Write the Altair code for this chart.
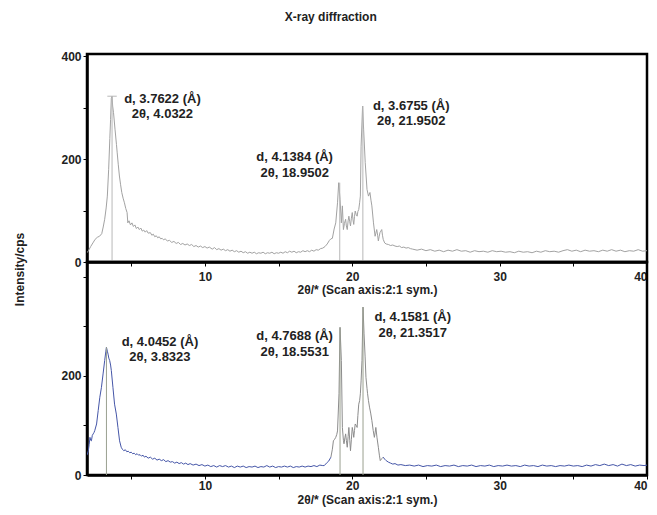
import altair as alt
import pandas as pd

# ---------------- data ----------------
top_scan = [
    (2.0, 18), (2.1, 22), (2.25, 30), (2.4, 37), (2.55, 44), (2.7, 48), (2.85, 50), (3.0, 55),
    (3.1, 68), (3.2, 83), (3.3, 105), (3.38, 128), (3.47, 180), (3.55, 240), (3.6, 277),
    (3.65, 318), (3.7, 322), (3.74, 303), (3.8, 290), (3.9, 258), (4.0, 228), (4.05, 212),
    (4.12, 190), (4.2, 167), (4.28, 150), (4.36, 135), (4.45, 124), (4.54, 115), (4.63, 104),
    (4.72, 96), (4.77, 76), (4.85, 80), (4.95, 72), (5.05, 76), (5.15, 69), (5.25, 72),
    (5.35, 65), (5.45, 68), (5.55, 63), (5.65, 66), (5.75, 60), (5.85, 62), (5.95, 58),
    (6.05, 61), (6.15, 56), (6.3, 57), (6.4, 52), (6.5, 54), (6.6, 49), (6.7, 51), (6.8, 47),
    (6.9, 49), (7.0, 45), (7.1, 46), (7.2, 43), (7.3, 45), (7.45, 41), (7.6, 42), (7.75, 38),
    (7.9, 40), (8.05, 36), (8.2, 38), (8.35, 34), (8.5, 36), (8.65, 33), (8.8, 35), (8.95, 32),
    (9.1, 34), (9.25, 30), (9.4, 32), (9.55, 29), (9.7, 31), (9.85, 28), (10.0, 30),
    (10.15, 27), (10.3, 29), (10.5, 25), (10.65, 28), (10.8, 24), (10.95, 26), (11.1, 23),
    (11.25, 25), (11.4, 22), (11.55, 24), (11.7, 21), (11.85, 23), (12.0, 20), (12.15, 22),
    (12.3, 19), (12.45, 21), (12.6, 18), (12.75, 20), (12.9, 17), (13.05, 19), (13.2, 17),
    (13.35, 19), (13.5, 16), (13.65, 18), (13.8, 17), (13.95, 19), (14.1, 16), (14.25, 18),
    (14.4, 17), (14.55, 19), (14.7, 16), (14.85, 18), (15.0, 17), (15.15, 19), (15.3, 17),
    (15.45, 20), (15.6, 18), (15.75, 21), (15.9, 19), (16.05, 21), (16.2, 18), (16.35, 20),
    (16.5, 19), (16.65, 22), (16.8, 20), (16.95, 22), (17.1, 20), (17.25, 23), (17.4, 21),
    (17.55, 24), (17.7, 23), (17.85, 26), (18.0, 27), (18.15, 30), (18.3, 35), (18.45, 42),
    (18.55, 45), (18.65, 46), (18.77, 64), (18.88, 76), (19.0, 115), (19.08, 154),
    (19.17, 122), (19.26, 76), (19.33, 109), (19.4, 63), (19.47, 75), (19.55, 83), (19.6, 70),
    (19.66, 63), (19.72, 80), (19.77, 89), (19.83, 78), (19.88, 70), (19.94, 85), (20.0, 96),
    (20.05, 82), (20.1, 73), (20.15, 88), (20.2, 99), (20.27, 92), (20.33, 89), (20.38, 98),
    (20.44, 102), (20.5, 115), (20.55, 128), (20.6, 225), (20.7, 303), (20.77, 258),
    (20.88, 193), (21.0, 141), (21.1, 128), (21.2, 135), (21.27, 120), (21.33, 109),
    (21.44, 76), (21.55, 50), (21.6, 56), (21.66, 63), (21.72, 52), (21.77, 41), (21.83, 50),
    (21.88, 57), (21.94, 60), (22.0, 63), (22.05, 52), (22.1, 44), (22.2, 37), (22.3, 35),
    (22.45, 34), (22.6, 32), (22.75, 33), (22.9, 31), (23.05, 30), (23.2, 31), (23.35, 28),
    (23.5, 29), (23.65, 27), (23.8, 28), (23.95, 26), (24.1, 25), (24.4, 23), (24.7, 25),
    (25.0, 22), (25.3, 24), (25.6, 21), (25.9, 23), (26.2, 20), (26.5, 23), (26.8, 21),
    (27.1, 24), (27.4, 21), (27.7, 22), (28.0, 19), (28.3, 22), (28.6, 20), (28.9, 21),
    (29.2, 19), (29.5, 22), (29.8, 20), (30.1, 21), (30.4, 19), (30.7, 20), (31.0, 18),
    (31.3, 21), (31.6, 19), (31.9, 20), (32.2, 18), (32.5, 21), (32.8, 19), (33.1, 22),
    (33.4, 20), (33.7, 21), (34.0, 19), (34.3, 22), (34.6, 24), (34.9, 21), (35.2, 23),
    (35.5, 20), (35.8, 23), (36.1, 21), (36.4, 22), (36.7, 20), (37.0, 23), (37.3, 21),
    (37.6, 24), (37.9, 21), (38.2, 23), (38.5, 20), (38.8, 22), (39.1, 21), (39.4, 24),
    (39.7, 21), (40.0, 22),
]

bottom_scan = [
    (2.0, 40), (2.09, 49), (2.15, 62), (2.2, 76), (2.25, 70), (2.3, 69), (2.36, 80), (2.42, 83),
    (2.48, 86), (2.53, 90), (2.65, 103), (2.76, 130), (2.87, 157), (2.98, 177), (3.09, 204),
    (3.2, 231), (3.28, 250), (3.32, 258), (3.38, 250), (3.43, 244), (3.48, 236), (3.54, 231),
    (3.6, 222), (3.65, 211), (3.76, 177), (3.87, 143), (3.99, 123), (4.1, 96), (4.21, 69),
    (4.32, 56), (4.4, 52), (4.5, 49), (4.6, 51), (4.7, 47), (4.8, 48), (4.9, 45), (5.0, 46),
    (5.1, 43), (5.2, 44), (5.3, 41), (5.4, 43), (5.5, 40), (5.6, 41), (5.7, 38), (5.8, 40),
    (5.9, 36), (6.0, 38), (6.15, 34), (6.3, 36), (6.45, 32), (6.6, 34), (6.75, 30), (6.9, 32),
    (7.05, 29), (7.2, 31), (7.35, 27), (7.5, 29), (7.65, 26), (7.8, 27), (7.95, 24), (8.1, 26),
    (8.25, 23), (8.4, 25), (8.55, 22), (8.7, 24), (8.85, 21), (9.0, 23), (9.2, 20), (9.4, 22),
    (9.6, 19), (9.8, 21), (10.0, 18), (10.2, 20), (10.4, 17), (10.6, 19), (10.8, 16),
    (11.0, 19), (11.2, 17), (11.4, 19), (11.6, 16), (11.8, 18), (12.0, 15), (12.2, 18),
    (12.4, 16), (12.6, 18), (12.8, 15), (13.0, 17), (13.2, 16), (13.4, 18), (13.6, 15),
    (13.8, 17), (14.0, 16), (14.2, 19), (14.4, 16), (14.6, 18), (14.8, 15), (15.0, 17),
    (15.2, 16), (15.4, 18), (15.6, 16), (15.8, 18), (16.0, 15), (16.2, 17), (16.4, 16),
    (16.6, 18), (16.8, 16), (17.0, 18), (17.2, 17), (17.4, 19), (17.6, 17), (17.8, 20),
    (18.0, 19), (18.1, 19), (18.25, 24), (18.4, 28), (18.55, 36), (18.65, 52), (18.72, 69),
    (18.8, 72), (18.88, 76), (18.95, 82), (19.0, 89), (19.1, 164), (19.17, 298), (19.26, 231),
    (19.33, 96), (19.4, 70), (19.44, 63), (19.5, 75), (19.55, 83), (19.6, 70), (19.66, 56),
    (19.72, 78), (19.77, 96), (19.83, 70), (19.88, 49), (19.94, 72), (20.0, 96), (20.05, 88),
    (20.1, 76), (20.15, 90), (20.2, 103), (20.27, 100), (20.33, 96), (20.38, 120),
    (20.44, 143), (20.5, 150), (20.55, 164), (20.6, 190), (20.66, 231), (20.73, 339),
    (20.8, 285), (20.87, 240), (20.93, 197), (21.0, 175), (21.04, 164), (21.1, 150),
    (21.17, 137), (21.25, 125), (21.33, 110), (21.42, 90), (21.5, 76), (21.55, 85), (21.6, 96),
    (21.68, 75), (21.77, 56), (21.84, 40), (21.9, 29), (22.0, 33), (22.1, 36), (22.2, 32),
    (22.3, 29), (22.45, 26), (22.6, 24), (22.75, 22), (22.9, 23), (23.1, 20), (23.3, 21),
    (23.6, 19), (23.9, 20), (24.2, 18), (24.5, 20), (24.8, 17), (25.1, 19), (25.4, 18),
    (25.7, 20), (26.0, 17), (26.3, 19), (26.6, 18), (26.9, 20), (27.2, 17), (27.5, 19),
    (27.8, 18), (28.1, 20), (28.4, 17), (28.7, 19), (29.0, 18), (29.3, 20), (29.6, 17),
    (29.9, 19), (30.2, 18), (30.5, 20), (30.8, 18), (31.1, 19), (31.4, 17), (31.7, 20),
    (32.0, 18), (32.3, 19), (32.6, 17), (32.9, 20), (33.2, 18), (33.5, 19), (33.8, 17),
    (34.1, 19), (34.4, 18), (34.7, 20), (35.0, 18), (35.3, 19), (35.6, 17), (35.9, 20),
    (36.2, 18), (36.5, 21), (36.8, 19), (37.1, 22), (37.4, 19), (37.7, 21), (38.0, 18),
    (38.3, 22), (38.6, 19), (38.9, 21), (39.2, 18), (39.5, 20), (39.8, 19), (40.0, 20),
]

# peak markers (2θ position, height)
top_peak_x = [3.7, 19.15, 20.72]
top_peak_y = [322, 154, 303]
bottom_peak_x = [3.32, 19.17, 20.73]
bottom_peak_y = [258, 298, 339]

# annotations: (line1, line2, x, y line1, y line2)
top_notes = [
    ("d, 3.7622 (Å)", "2θ, 4.0322", 7.12, 317, 288),
    ("d, 4.1384 (Å)", "2θ, 18.9502", 16.09, 204, 173),
    ("d, 3.6755 (Å)", "2θ, 21.9502", 24.0, 303, 274),
]
bottom_notes = [
    ("d, 4.0452 (Å)", "2θ, 3.8323", 6.95, 269, 238),
    ("d, 4.7688 (Å)", "2θ, 18.5531", 16.09, 281, 248),
    ("d, 4.1581 (Å)", "2θ, 21.3517", 24.1, 319, 286),
]

x_ticks = [5, 10, 15, 20, 25, 30, 35, 40]
y_ticks = [0, 50, 100, 150, 200, 250, 300, 350, 400]

FONT = "Liberation Sans"
X_TITLE = "2θ/* (Scan axis:2:1 sym.)"

# ---------------- frames ----------------
top_df = pd.DataFrame(top_scan, columns=["x", "y"])
bot_df = pd.DataFrame(bottom_scan, columns=["x", "y"])
parts = []
for seg, lo, hi in [("a", 0, 18.55), ("b", 18.55, 22.1), ("c", 22.1, 99)]:
    p = bot_df[(bot_df.x >= lo) & (bot_df.x <= hi)].copy()
    p["seg"] = seg
    parts.append(p)
bot_seg_df = pd.concat(parts, ignore_index=True)

top_peaks = pd.DataFrame({"x": top_peak_x, "y": top_peak_y})
top_peaks["base"] = 0
top_peaks["xa"] = top_peaks["x"] - 0.32
top_peaks["xb"] = top_peaks["x"] + 0.32
bot_peaks = pd.DataFrame({"x": bottom_peak_x, "y": bottom_peak_y})
bot_peaks["base"] = 0


def notes_df(notes):
    rows = []
    for l1, l2, x, y1, y2 in notes:
        rows.append({"t": l1, "x": x, "y": y1})
        rows.append({"t": l2, "x": x, "y": y2})
    return pd.DataFrame(rows)


xscale = alt.Scale(domain=[2, 40], nice=False, zero=False)


def x_axis(label_pad, title_pad):
    return alt.Axis(values=x_ticks, title=X_TITLE,
                    labelExpr="datum.value % 10 == 0 ? datum.label : ''",
                    labelFlush=True, grid=False, tickSize=4, labelPadding=label_pad,
                    titlePadding=title_pad)


top_y_scale = alt.Scale(domain=[0, 404], nice=False)
bot_y_scale = alt.Scale(domain=[0, 430], nice=False)

PW = 560

top_line = alt.Chart(top_df).mark_line(color="#a2a2a2", strokeWidth=1, clip=True).encode(
    x=alt.X("x:Q", scale=xscale, axis=x_axis(5, 2)),
    y=alt.Y("y:Q", scale=top_y_scale,
            axis=alt.Axis(values=y_ticks, title="Intensity/cps", titleY=215,
                          labelExpr="datum.value % 200 == 0 ? datum.label : ''",
                          grid=False, tickSize=4, labelPadding=2, titlePadding=34)),
)
top_rules = alt.Chart(top_peaks).mark_rule(color="#b8b8b8", strokeWidth=1).encode(
    x="x:Q", y="base:Q", y2="y:Q")
top_cap = alt.Chart(top_peaks.head(1)).mark_rule(color="#b8b8b8", strokeWidth=1).encode(
    x="xa:Q", x2="xb:Q", y="y:Q")
top_text = alt.Chart(notes_df(top_notes)).mark_text(
    font=FONT, fontSize=13, fontWeight="bold", color="#222", baseline="middle", align="center"
).encode(x="x:Q", y="y:Q", text="t:N")

top = alt.layer(top_line, top_rules, top_cap, top_text).properties(width=PW, height=208)

bot_line = alt.Chart(bot_seg_df).mark_line(strokeWidth=1, clip=True).encode(
    x=alt.X("x:Q", scale=xscale, axis=x_axis(1, 3)),
    y=alt.Y("y:Q", scale=bot_y_scale,
            axis=alt.Axis(values=y_ticks, title=None,
                          labelExpr="datum.value == 0 || datum.value == 200 ? datum.label : ''",
                          grid=False, tickSize=4, labelPadding=2)),
    color=alt.Color("seg:N", scale=alt.Scale(domain=["a", "b", "c"],
                                             range=["#4556a8", "#8c8c8c", "#4556a8"]),
                    legend=None),
    detail="seg:N",
)
bot_rules = alt.Chart(bot_peaks).mark_rule(color="#9aa090", strokeWidth=1).encode(
    x="x:Q", y="base:Q", y2="y:Q")
bot_text = alt.Chart(notes_df(bottom_notes)).mark_text(
    font=FONT, fontSize=13, fontWeight="bold", color="#222", baseline="middle", align="center"
).encode(x="x:Q", y="y:Q", text="t:N")

bottom = alt.layer(bot_line, bot_rules, bot_text).properties(width=PW, height=213)

chart = alt.vconcat(top, bottom, spacing=0, bounds="flush").properties(
    title=alt.TitleParams("X-ray diffraction", font=FONT, fontSize=12, fontWeight="bold",
                          color="#222", anchor="middle", offset=25),
    padding={"left": 4, "top": 2, "right": 0, "bottom": 0},
).configure_view(
    stroke="black", strokeWidth=2.5
).configure_axis(
    domainColor="black", domainWidth=2.5, tickColor="black", tickWidth=1,
    labelFont=FONT, labelFontSize=12, labelFontWeight="bold", labelColor="#222",
    titleFont=FONT, titleFontSize=12, titleFontWeight="bold", titleColor="#222",
)

chart.save("out.html", embed_options={"renderer": "svg", "actions": False})
